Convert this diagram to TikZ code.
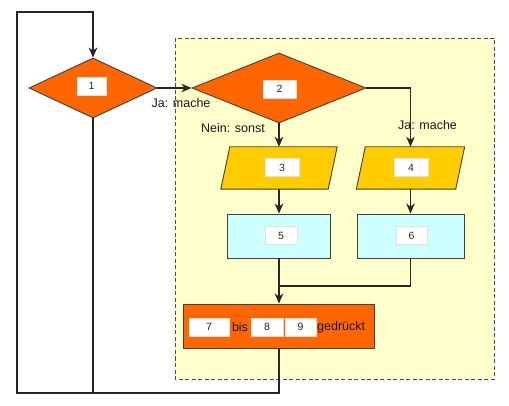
\documentclass[tikz,border=0pt]{standalone}
\usepackage{fontspec}
\setmainfont{Liberation Sans}
\usetikzlibrary{shapes.geometric,arrows.meta}
\definecolor{dorange}{HTML}{FF6600}
\definecolor{dyellow}{HTML}{FFCC00}
\definecolor{dcyan}{HTML}{CCFFFF}
\definecolor{dbg}{HTML}{FFFFCC}
\begin{document}
\begin{tikzpicture}[x=1pt,y=-1pt,
  conn/.style={draw=black!85, line width=1.1pt},
  arr/.style={conn,-{Stealth[length=10pt,width=8.5pt,inset=3pt]}},
  dia/.style={diamond, draw=black!75, fill=dorange, inner sep=0pt, line width=0.9pt},
  para/.style={rectangle, inner sep=0pt, minimum height=42pt},
  box/.style={rectangle, draw=black!75, line width=0.9pt, inner sep=0pt, minimum height=44pt},
  lbl/.style={fill=white, draw=black!12, line width=0.4pt, font=\fontsize{10.5}{12}\selectfont, text=black!85, inner sep=0pt, minimum height=18pt},
  txt/.style={font=\fontsize{12.5}{14}\selectfont, text=black!90, inner sep=0pt}
]
\useasboundingbox (0,0) rectangle (509,406);
\draw[dash pattern=on 4pt off 2.5pt, fill=dbg, draw=black!70, line width=0.9pt] (175,38) rectangle (494,379);

% diamonds
\node[dia, minimum width=128pt, minimum height=60pt] (d1) at (93,88) {};
\node[dia, minimum width=174pt, minimum height=70pt] (d2) at (279,88) {};

% parallelograms
\node[para, minimum width=107pt] (p3) at (279,168) {};
\node[para, minimum width=99pt] (p4) at (410.5,168) {};
\foreach \p in {p3,p4}{
  \draw[fill=dyellow, draw=black!75, line width=0.9pt]
    ([xshift=4.5pt]\p.north west) -- ([xshift=4.5pt]\p.north east) --
    ([xshift=-4.5pt]\p.south east) -- ([xshift=-4.5pt]\p.south west) -- cycle;
}

% boxes
\node[box, fill=dcyan, minimum width=103pt] (b5) at (279,236) {};
\node[box, fill=dcyan, minimum width=107pt] (b6) at (410.5,236) {};
\node[box, fill=dorange, minimum width=191pt] (b7) at (279,326) {};

% inner labels
\node[lbl, minimum width=29pt] (l1) at (91.5,86) {1};
\node[lbl, minimum width=33pt] (l2) at (279.5,89) {2};
\node[lbl, minimum width=34pt] (l3) at (282,167.5) {3};
\node[lbl, minimum width=34pt] (l4) at (411,167.5) {4};
\node[lbl, minimum width=32pt] (l5) at (281,235.5) {5};
\node[lbl, minimum width=31pt] (l6) at (411.5,235.5) {6};
\node[lbl, minimum width=40pt] (l7) at (209,327) {7};
\node[txt] (tbis) at (240,327) {bis};
\node[lbl, minimum width=32pt] (l8) at (267,327) {8};
\node[lbl, minimum width=31pt] (l9) at (300.5,327) {9};
\node[txt, anchor=west] (tged) at (317,327.5) {gedrückt};

% edge labels
\node[txt] (ja1) at (181,103) {Ja: mache};
\node[txt] (nein) at (233,128) {Nein: sonst};
\node[txt] (ja2) at (427.5,125) {Ja: mache};

% coordinates
\coordinate (j) at (279,286);
\coordinate (bl) at (17,393);
\coordinate (tl) at (17,12);

% connectors
\draw[arr] (d1.east) -- (d2.west);
\draw[arr] (d2.south) -- (p3.north);
\draw[arr] (d2.east) -| (p4.north);
\draw[arr] (p3.south) -- (b5.north);
\draw[arr] (p4.south) -- (b6.north);
\draw[arr] (b5.south) -- (b7.north);
\draw[conn] (b6.south) |- (j);
\draw[arr] (b7.south) |- (bl) -- (tl) -| (d1.north);
\draw[conn] (d1.south) -- (d1.south |- bl);
\end{tikzpicture}
\end{document}
